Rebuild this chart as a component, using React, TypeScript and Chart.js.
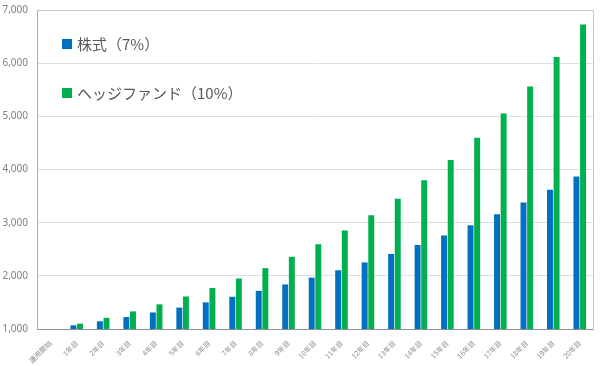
import React, { useEffect, useRef } from "react";
import { Chart, registerables } from "chart.js";

Chart.register(...registerables);

const categories = ["運用開始", "1年目", "2年目", "3年目", "4年目", "5年目", "6年目", "7年目", "8年目", "9年目", "10年目", "11年目", "12年目", "13年目", "14年目", "15年目", "16年目", "17年目", "18年目", "19年目", "20年目"];
const stockValues = [1000, 1070, 1145, 1225, 1311, 1403, 1501, 1606, 1718, 1838, 1967, 2105, 2252, 2410, 2579, 2759, 2952, 3159, 3380, 3617, 3870];
const hedgeValues = [1000, 1100, 1210, 1331, 1464, 1611, 1772, 1949, 2144, 2358, 2594, 2853, 3138, 3452, 3797, 4177, 4595, 5054, 5560, 6116, 6727];
const seriesNames = ["株式（7%）", "ヘッジファンド（10%）"];
const seriesColors = ["#0070C0", "#00B050"];

const boxPlugin = {
  id: "boxPlugin",
  afterDraw(chart: any) {
    const { ctx, chartArea } = chart;
    ctx.save();
    ctx.strokeStyle = "#c8c8c8";
    ctx.lineWidth = 1;
    ctx.beginPath();
    ctx.moveTo(Math.round(chartArea.left) + 0.5, Math.round(chartArea.top) + 0.5);
    ctx.lineTo(Math.round(chartArea.right) + 0.5, Math.round(chartArea.top) + 0.5);
    ctx.lineTo(Math.round(chartArea.right) + 0.5, Math.round(chartArea.bottom) + 0.5);
    ctx.stroke();
    ctx.restore();
  },
};

export default function App() {
  const ref = useRef<HTMLCanvasElement>(null);
  useEffect(() => {
    document.body.style.margin = "0";
    const chart = new Chart(ref.current!, {
      type: "bar",
      data: {
        labels: categories,
        datasets: [
          { label: seriesNames[0], data: stockValues, backgroundColor: seriesColors[0], categoryPercentage: 0.5, barPercentage: 0.9 },
          { label: seriesNames[1], data: hedgeValues, backgroundColor: seriesColors[1], categoryPercentage: 0.5, barPercentage: 0.9 },
        ],
      },
      options: {
        animation: false,
        responsive: false,
        maintainAspectRatio: false,
        layout: { padding: { top: 10, right: 7, left: 0, bottom: 0 } },
        plugins: { legend: { display: false }, tooltip: { enabled: false } },
        scales: {
          x: {
            grid: { display: false },
            border: { color: "#909090" },
            ticks: {
              minRotation: 45,
              maxRotation: 45,
              color: "#8a8a8a",
              font: { family: "'Noto Sans CJK JP'", size: 7 },
              padding: 2,
            },
            afterFit(scale: any) { scale.height = 37; scale.paddingLeft = 0; scale.paddingRight = 0; },
          },
          y: {
            min: 1000,
            max: 7000,
            grid: { color: "#dedede", drawTicks: false },
            border: { color: "#a8a8a8" },
            ticks: {
              stepSize: 1000,
              color: "#808080",
              padding: 9,
              font: { family: "'Noto Sans'", size: 10 },
              callback: (v: any) => Number(v).toLocaleString("en-US"),
            },
            afterFit(scale: any) { scale.width = 37; scale.paddingTop = 0; scale.paddingBottom = 0; },
          },
        },
      },
      plugins: [boxPlugin],
    });
    return () => chart.destroy();
  }, []);

  const legendItem = (i: number, top: number) => (
    <div style={{ position: "absolute", left: 62, top, display: "flex", alignItems: "center", fontFamily: "'Noto Sans CJK JP'", fontSize: 15, color: "#595959", whiteSpace: "nowrap" }}>
      <span style={{ display: "inline-block", width: 10, height: 10, background: seriesColors[i], marginRight: 5 }} />
      <span>{seriesNames[i]}</span>
    </div>
  );

  return (
    <div style={{ position: "absolute", left: 0, top: 0, width: 600, height: 366 }}>
      <canvas ref={ref} width={600} height={366} />
      {legendItem(0, 33)}
      {legendItem(1, 82)}
    </div>
  );
}
